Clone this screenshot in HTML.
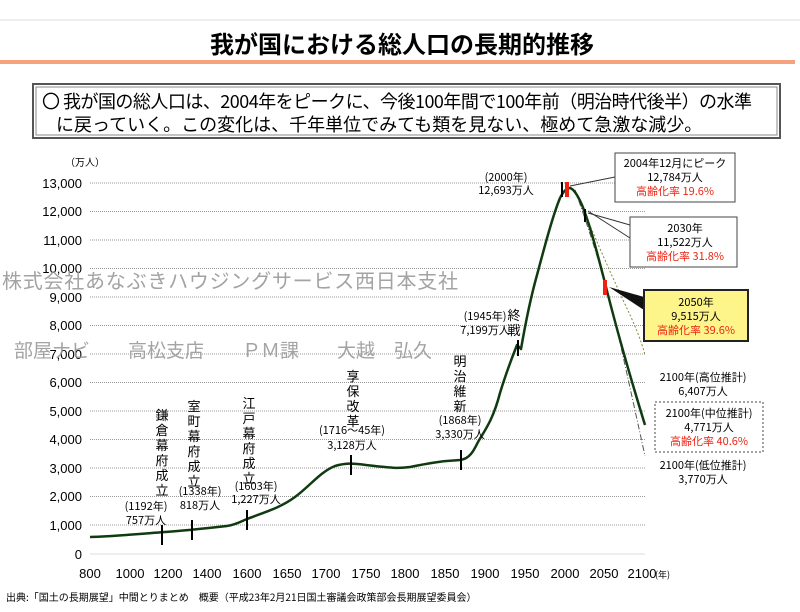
<!DOCTYPE html>
<html><head><meta charset="utf-8"><style>
body{margin:0;background:#fff;width:800px;height:607px;overflow:hidden;font-family:"Liberation Sans","Noto Sans CJK JP",sans-serif;}
</style></head><body>
<svg width="800" height="607" xmlns="http://www.w3.org/2000/svg" font-family="Liberation Sans, Noto Sans CJK JP, sans-serif">
<line x1="0" y1="20" x2="800" y2="20" stroke="#ddd"/>
<text x="402" y="53" font-size="24" font-weight="bold" text-anchor="middle" font-family="Noto Sans CJK JP, sans-serif">我が国における総人口の長期的推移</text>
<rect x="0" y="60" width="795" height="4" fill="#f4a37e"/>
<rect x="33" y="84" width="747" height="54" fill="#fff" stroke="#555" stroke-width="2"/>
<rect x="36" y="87" width="741" height="48" fill="none" stroke="#888" stroke-width="1"/>
<text x="42" y="108" font-size="18" font-family="Noto Sans CJK JP, sans-serif" textLength="710">〇  我が国の総人口は、2004年をピークに、今後100年間で100年前（明治時代後半）の水準</text>
<text x="56" y="131" font-size="18" font-family="Noto Sans CJK JP, sans-serif">に戻っていく。この変化は、千年単位でみても類を見ない、極めて急激な減少。</text>
<g stroke="#999" stroke-dasharray="1,1">
<line x1="90" y1="183" x2="645" y2="183"/><line x1="90" y1="211.5" x2="645" y2="211.5"/><line x1="90" y1="240" x2="645" y2="240"/><line x1="90" y1="268.5" x2="645" y2="268.5"/><line x1="90" y1="297" x2="645" y2="297"/><line x1="90" y1="325.5" x2="645" y2="325.5"/><line x1="90" y1="354" x2="645" y2="354"/><line x1="90" y1="382.5" x2="645" y2="382.5"/><line x1="90" y1="411" x2="645" y2="411"/><line x1="90" y1="439.5" x2="645" y2="439.5"/><line x1="90" y1="468" x2="645" y2="468"/><line x1="90" y1="496.5" x2="645" y2="496.5"/><line x1="90" y1="525" x2="645" y2="525"/>
</g>
<line x1="90" y1="554" x2="645" y2="554" stroke="#ddd"/>
<g font-size="13" text-anchor="end">
<text x="82" y="188">13,000</text><text x="82" y="216">12,000</text><text x="82" y="245">11,000</text><text x="82" y="273">10,000</text><text x="82" y="302">9,000</text><text x="82" y="330">8,000</text><text x="82" y="359">7,000</text><text x="82" y="387">6,000</text><text x="82" y="416">5,000</text><text x="82" y="444">4,000</text><text x="82" y="473">3,000</text><text x="82" y="501">2,000</text><text x="82" y="530">1,000</text><text x="82" y="559">0</text>
</g>
<text x="65" y="166" font-size="10" font-family="Noto Sans CJK JP, sans-serif">（万人）</text>
<g font-size="13" text-anchor="middle">
<text x="90" y="578">800</text><text x="130" y="578">1000</text><text x="168" y="578">1200</text><text x="207" y="578">1400</text><text x="247" y="578">1600</text><text x="287" y="578">1650</text><text x="326" y="578">1700</text><text x="366" y="578">1750</text><text x="405" y="578">1800</text><text x="445" y="578">1850</text><text x="485" y="578">1900</text><text x="525" y="578">1950</text><text x="565" y="578">2000</text><text x="604" y="578">2050</text><text x="642" y="578">2100</text>
</g>
<text x="655" y="578" font-size="9" font-family="Noto Sans CJK JP, sans-serif">(年)</text>
<path d="M575,190 Q600,250 623,300 Q640,335 645,355" fill="none" stroke="#8a8a30" stroke-dasharray="2,2"/>
<path d="M575,190 Q600,260 615,320 Q635,410 645,456" fill="none" stroke="#555" stroke-dasharray="6,2,1,2"/>
<path d="M90,537 C120,536 150,533 165,532 C180,531 200,529 227,526 C235,525 240,522 247,519 C265,512 280,508 295,497 C310,486 320,472 335,466 C345,463 352,463 366,465 C385,467 395,469 410,467 C425,464 440,461 460,460 C470,459 474,450 478,442 C485,430 493,420 500,393 C507,370 513,355 517,345 L521,349 C526,320 530,300 537,275 C545,245 553,215 560,198 C564,190 567,188 570,188 C574,189 578,196 582,205 C590,225 597,252 605,283 C613,315 625,360 645,425" fill="none" stroke="#103a10" stroke-width="2.5" stroke-linejoin="round"/>
<g stroke="#000" stroke-width="2">
<line x1="162" y1="525" x2="162" y2="545"/><line x1="192" y1="520" x2="192" y2="540"/><line x1="247" y1="510" x2="247" y2="530"/><line x1="351" y1="455" x2="351" y2="475"/><line x1="461" y1="450" x2="461" y2="470"/><line x1="518" y1="340" x2="518" y2="356"/><line x1="562" y1="182" x2="562" y2="197"/><line x1="585" y1="209" x2="585" y2="222"/>
</g>
<rect x="565" y="182" width="4" height="15" fill="#e21"/>
<rect x="603" y="280" width="4" height="15" fill="#e21"/>
<g font-size="11" text-anchor="middle" font-family="Noto Sans CJK JP, sans-serif">
<text x="146" y="510">(1192年)</text><text x="146" y="524">757万人</text>
<text x="200" y="495">(1338年)</text><text x="200" y="509">818万人</text>
<text x="256" y="490">(1603年)</text><text x="256" y="503">1,227万人</text>
<text x="352" y="434">(1716〜45年)</text><text x="352" y="449">3,128万人</text>
<text x="460" y="424">(1868年)</text><text x="460" y="438">3,330万人</text>
<text x="485" y="320">(1945年)</text><text x="485" y="334">7,199万人</text>
<text x="506" y="181">(2000年)</text><text x="506" y="194">12,693万人</text>
</g>
<g font-size="13" text-anchor="middle" font-family="Noto Sans CJK JP, sans-serif">
<text x="162" y="420">鎌</text><text x="162" y="435">倉</text><text x="162" y="450">幕</text><text x="162" y="465">府</text><text x="162" y="480">成</text><text x="162" y="495">立</text>
<text x="194" y="411">室</text><text x="194" y="426">町</text><text x="194" y="441">幕</text><text x="194" y="456">府</text><text x="194" y="471">成</text><text x="194" y="486">立</text>
<text x="249" y="408">江</text><text x="249" y="423">戸</text><text x="249" y="438">幕</text><text x="249" y="453">府</text><text x="249" y="468">成</text><text x="249" y="483">立</text>
<text x="353" y="381">享</text><text x="353" y="396">保</text><text x="353" y="411">改</text><text x="353" y="426">革</text>
<text x="460" y="366">明</text><text x="460" y="381">治</text><text x="460" y="396">維</text><text x="460" y="411">新</text>
<text x="514" y="320">終</text><text x="514" y="335">戦</text>
</g>
<g fill="#999" font-family="Noto Sans CJK JP, sans-serif" fill-opacity="0.9">
<text x="2" y="288" font-size="20" textLength="456">株式会社あなぶきハウジングサービス西日本支社</text>
<text x="14" y="357" font-size="19">部屋ナビ　　高松支店　　ＰＭ課　　大越　弘久</text>
</g>
<line x1="570" y1="186" x2="615" y2="177" stroke="#333"/>
<line x1="588" y1="211" x2="630" y2="238" stroke="#333"/><line x1="588" y1="213" x2="630" y2="225" stroke="#333"/>
<polygon points="609,287 644,297 644,310" fill="#111"/>
<rect x="615" y="153" width="120" height="49" fill="#fff" stroke="#444"/>
<rect x="630" y="217" width="107" height="50" fill="#fff" stroke="#444"/>
<rect x="644" y="290" width="104" height="51" fill="#fdf58a" stroke="#222" stroke-width="2"/>
<rect x="655" y="402" width="108" height="50" fill="#fff" stroke="#444" stroke-dasharray="2,2"/>
<g font-size="11" text-anchor="middle" font-family="Noto Sans CJK JP, sans-serif">
<text x="675" y="167">2004年12月にピーク</text><text x="675" y="181">12,784万人</text><text x="675" y="195" fill="#e21">高齢化率 19.6%</text>
<text x="685" y="232">2030年</text><text x="685" y="246">11,522万人</text><text x="685" y="260" fill="#e21">高齢化率 31.8%</text>
<text x="696" y="306">2050年</text><text x="696" y="320">9,515万人</text><text x="696" y="334" fill="#e21">高齢化率 39.6%</text>
<text x="703" y="381">2100年(高位推計)</text><text x="703" y="395">6,407万人</text>
<text x="709" y="417">2100年(中位推計)</text><text x="709" y="431">4,771万人</text><text x="709" y="445" fill="#e21">高齢化率 40.6%</text>
<text x="703" y="469">2100年(低位推計)</text><text x="703" y="483">3,770万人</text>
</g>
<text x="6" y="601" font-size="10" font-family="Noto Sans CJK JP, sans-serif">出典:「国土の長期展望」中間とりまとめ　概要（平成23年2月21日国土審議会政策部会長期展望委員会）</text>
</svg>
</body></html>
